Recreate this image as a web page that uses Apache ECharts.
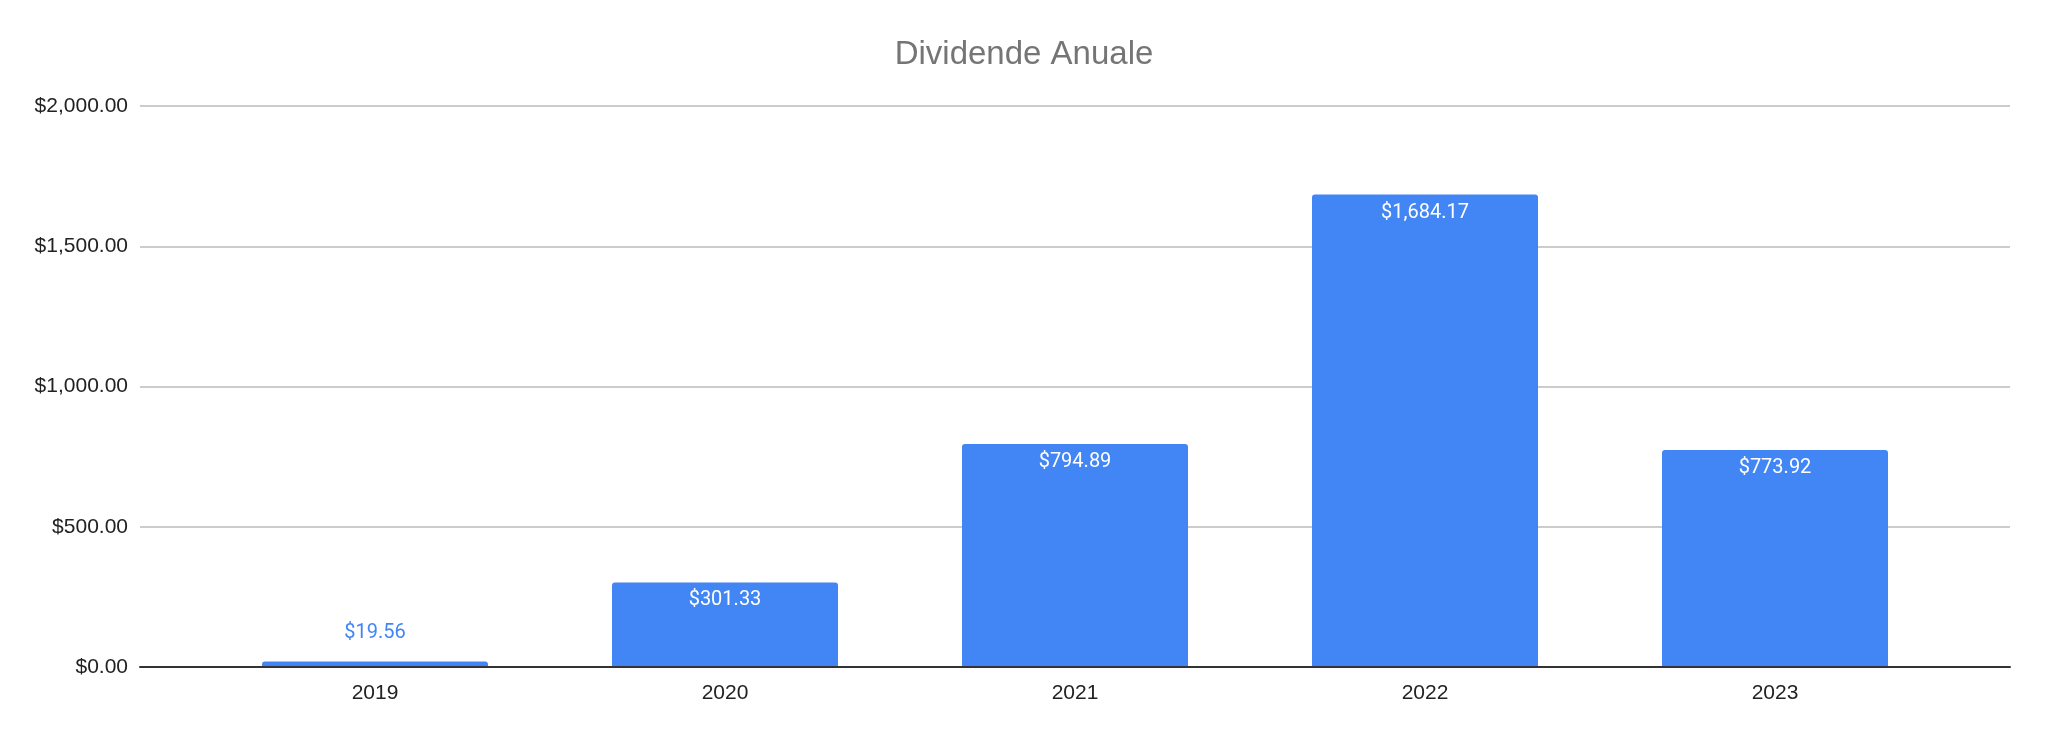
<!DOCTYPE html>
<html>
<head>
<meta charset="utf-8">
<script src="https://cdn.jsdelivr.net/npm/echarts@6/dist/echarts.min.js"></script>
<style>
html,body{margin:0;padding:0;background:#fff;}
#chart{width:2048px;height:735px;}
</style>
</head>
<body>
<div id="chart"></div>
<script>
const titleText = 'Dividende Anuale';
const years = ['2019', '2020', '2021', '2022', '2023'];
const dividends = [19.56, 301.33, 794.89, 1684.17, 773.92];
const yMin = 0, yMax = 2000, yStep = 500;

function money(v) {
  return '$' + Number(v).toLocaleString('en-US', {minimumFractionDigits: 2, maximumFractionDigits: 2});
}

const barData = dividends.map(function (v) {
  if (v < 100) {
    return {value: v, label: {position: 'top', color: '#4285f4', distance: 19}};
  }
  return {value: v};
});

const chart = echarts.init(document.getElementById('chart'), null, {renderer: 'canvas'});
const gridTop = 106, gridBottom = 68;
chart.setOption({
  animation: false,
  backgroundColor: '#ffffff',
  title: {
    text: titleText,
    left: 'center',
    top: 33,
    textStyle: {fontFamily: 'Liberation Sans', fontSize: 33, fontWeight: 'normal', color: '#757575'}
  },
  grid: [
    {left: 140, right: 38, top: gridTop, bottom: gridBottom},
    {left: 200, right: 98, top: gridTop, bottom: gridBottom}
  ],
  xAxis: [
    {
      type: 'category', gridIndex: 0, data: [''],
      axisLine: {show: true, lineStyle: {color: '#333333', width: 2}},
      axisTick: {show: false}, axisLabel: {show: false}, splitLine: {show: false}, z: 5
    },
    {
      type: 'category', gridIndex: 1, data: years,
      axisLine: {show: false}, axisTick: {show: false},
      axisLabel: {color: '#222222', fontFamily: 'Liberation Sans', fontSize: 21, margin: 16}
    }
  ],
  yAxis: [
    {
      type: 'value', gridIndex: 0, min: yMin, max: yMax, interval: yStep,
      axisLine: {show: false}, axisTick: {show: false},
      axisLabel: {color: '#222222', fontFamily: 'Liberation Sans', fontSize: 21, margin: 12, formatter: money},
      splitLine: {show: true, lineStyle: {color: '#cccccc', width: 2}}
    },
    {
      type: 'value', gridIndex: 1, min: yMin, max: yMax, interval: yStep,
      show: false, splitLine: {show: false}
    }
  ],
  series: [{
    type: 'bar',
    xAxisIndex: 1, yAxisIndex: 1,
    data: barData,
    barWidth: 226,
    itemStyle: {color: '#4285f4', borderRadius: [3, 3, 0, 0]},
    label: {
      show: true, position: 'insideTop', distance: 8,
      color: '#ffffff', fontFamily: 'Roboto', fontSize: 20,
      formatter: function (p) { return money(p.value); }
    }
  }]
});
</script>
</body>
</html>
